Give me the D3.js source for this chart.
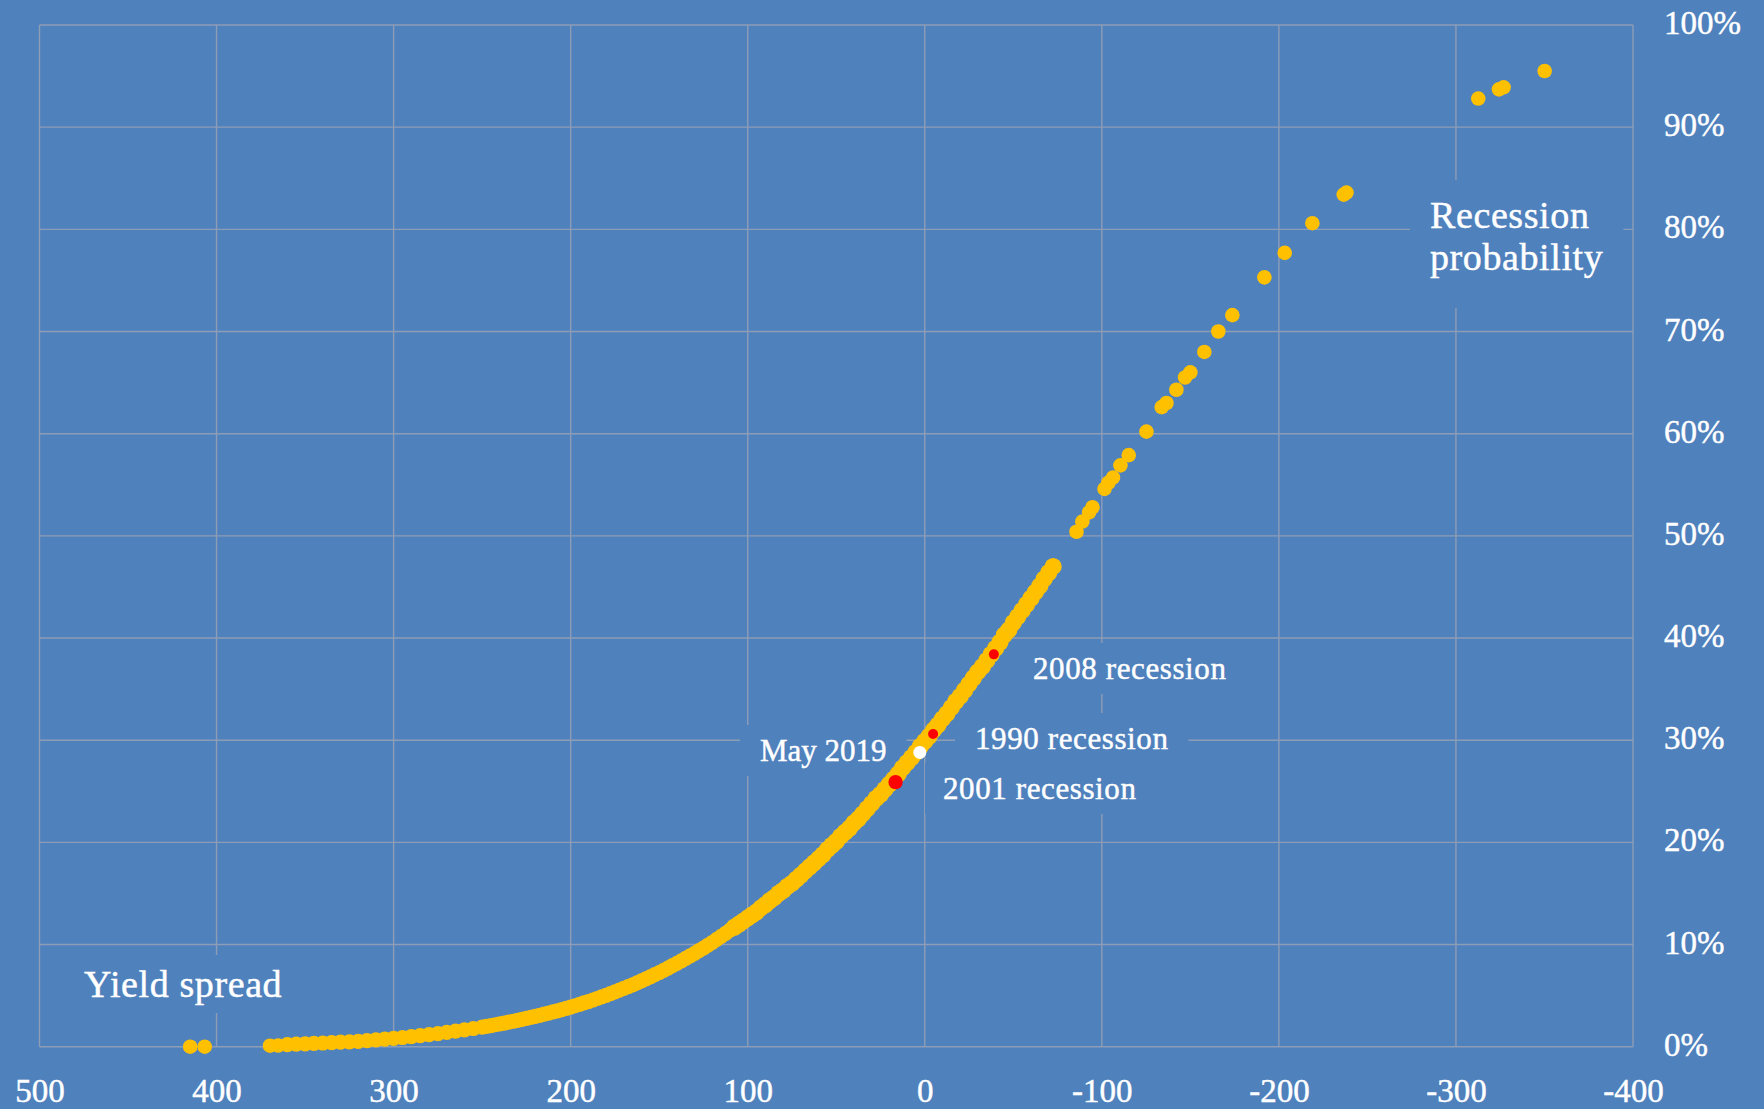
<!DOCTYPE html>
<html>
<head>
<meta charset="utf-8">
<script src="https://cdn.jsdelivr.net/npm/d3@7"></script>
<style>
html, body { margin: 0; padding: 0; background: #4F81BD; }
svg { display: block; }
</style>
</head>
<body>
<svg id="chart" width="1764" height="1109"></svg>
<script>
// ---------------- data ----------------
const xTickValues = [500, 400, 300, 200, 100, 0, -100, -200, -300, -400];
const yTickValues = [0, 10, 20, 30, 40, 50, 60, 70, 80, 90, 100];

// dense part of the scatter (yield spread in bp, recession probability in %)
const denseSpread = [
  360, 355, 350, 345, 340, 335, 330, 325, 320, 315, 310, 305, 300, 295, 290, 285, 280, 275, 270, 265,
  260, 255,
  250, 247.5, 245, 242.5, 240, 237.5, 235, 232.5, 230, 227.5, 225, 222.5, 220, 217.5, 215, 212.5, 210,
  207.5, 205, 202.5, 200, 197.5, 195, 192.5, 190, 187.5, 185, 182.5, 180, 177.5, 175, 172.5, 170,
  167.5, 165, 162.5, 160, 157.5, 155, 152.5, 150, 147.5, 145, 142.5, 140, 137.5, 135, 132.5, 130,
  127.5, 125, 122.5, 120,
  117.5, 115, 112.5, 110, 107.5, 105, 102.5, 100, 97.5, 95, 92.5, 90, 87.5, 85, 82.5, 80, 77.5, 75,
  72.5, 70, 67.5, 65, 62.5, 60, 57.5, 55, 52.5, 50, 47.5, 45, 42.5, 40, 37.5, 35, 32.5, 30, 27.5, 25,
  22.5, 20, 17.5, 15, 12.5, 10, 7.5, 5, 2.5, 0, -2.5, -5, -7.5, -10, -12.5, -15, -17.5, -20, -22.5,
  -25, -27.5, -30, -32.5, -35, -37.5, -40, -42.5, -45, -47.5, -50, -52.5, -55, -57.5, -60, -62.5,
  -65, -67.5, -70, -72.5
];
const denseProb = [
  0.20, 0.25, 0.28, 0.32, 0.36, 0.40, 0.44, 0.48, 0.53, 0.60, 0.66, 0.74, 0.82, 0.90, 0.98, 1.08, 1.18, 1.28, 1.40, 1.52,
  1.65, 1.78,
  1.92, 1.99, 2.07, 2.15, 2.23, 2.31, 2.40, 2.49, 2.58, 2.67, 2.77, 2.87, 2.97, 3.07, 3.18, 3.29, 3.40,
  3.51, 3.63, 3.75, 3.88, 4.01, 4.14, 4.28, 4.42, 4.57, 4.72, 4.87, 5.03, 5.19, 5.36, 5.53, 5.70,
  5.88, 6.06, 6.25, 6.44, 6.64, 6.84, 7.05, 7.26, 7.48, 7.70, 7.93, 8.16, 8.40, 8.64, 8.89, 9.14,
  9.40, 9.66, 9.93, 10.2,
  10.5, 10.8, 11.1, 11.4, 11.7, 12.0, 12.3, 12.6, 12.9, 13.2, 13.6, 13.9, 14.3, 14.6, 15.0, 15.3, 15.7, 16.0,
  16.4, 16.8, 17.2, 17.6, 18.0, 18.4, 18.8, 19.3, 19.7, 20.1, 20.6, 21.0, 21.4, 21.9, 22.3, 22.8, 23.3, 23.8, 24.3, 24.7,
  25.2, 25.7, 26.2, 26.7, 27.3, 27.8, 28.3, 28.8, 29.4, 29.9, 30.4, 31.0, 31.5, 32.1, 32.6, 33.2, 33.8, 34.3, 34.9,
  35.5, 36.1, 36.7, 37.2, 37.8, 38.4, 39.0, 39.6, 40.3, 40.8, 41.5, 42.1, 42.7, 43.3, 43.9, 44.5,
  45.1, 45.8, 46.4, 47.0
];

// isolated points
const sparseSpread = [
  414.9, 406.7, 369.8, 365.2,
  -85.7, -89.0, -92.8, -94.7, -101.5, -103.7, -106.3, -110.5, -115.2, -125.2, -133.8, -136.5,
  -142.1, -147.0, -150.0, -157.9, -165.8, -173.7, -191.8, -203.3, -218.9, -236.6, -238.2,
  -312.6, -324.3, -326.9, -350.1
];
const sparseProb = [
  0.0, 0.0, 0.1, 0.12,
  50.4, 51.4, 52.3, 52.8, 54.6, 55.2, 55.7, 56.9, 57.9, 60.2, 62.6, 63.0,
  64.3, 65.5, 66.0, 68.0, 70.0, 71.6, 75.3, 77.7, 80.6, 83.4, 83.6,
  92.8, 93.7, 93.9, 95.5
];

// highlighted episodes
const highlightNames  = ["2008 recession", "1990 recession", "2001 recession", "May 2019"];
const highlightSpread = [-39.0, -4.7, 16.5, 2.8];
const highlightProb   = [38.4, 30.6, 25.9, 28.8];

// text labels
const axisTitleX = "Yield spread";
const axisTitleY = ["Recession", "probability"];

// ---------------- layout & style ----------------
const BG = "#4F81BD";
const GRID = "#8E9DB6";
const GOLD = "#FFC000";
const FONT = "'Liberation Serif', 'DejaVu Serif', serif";

const svg = d3.select("#chart");
svg.append("rect").attr("width", 1764).attr("height", 1109).attr("fill", BG);

const x = d3.scaleLinear().domain([500, -400]).range([39.5, 1633]);
const y = d3.scaleLinear().domain([0, 100]).range([1046.7, 25]);

// gridlines
const gGrid = svg.append("g");
gGrid.selectAll("line.v").data(xTickValues).join("line")
  .attr("class", "v")
  .attr("x1", d => x(d)).attr("x2", d => x(d))
  .attr("y1", y(0)).attr("y2", y(100))
  .attr("stroke", GRID).attr("stroke-width", 1.4);
gGrid.selectAll("line.h").data(yTickValues).join("line")
  .attr("class", "h")
  .attr("y1", d => y(d)).attr("y2", d => y(d))
  .attr("x1", x(500)).attr("x2", x(-400))
  .attr("stroke", GRID).attr("stroke-width", 1.4);

function heavy(sel) {
  return sel.attr("fill", "#FFFFFF")
    .attr("stroke", "#FFFFFF").attr("stroke-width", 0.45)
    .style("paint-order", "stroke");
}

// axes (labels only)
const xAxis = d3.axisBottom(x).tickValues(xTickValues).tickSize(0).tickPadding(0)
  .tickFormat(d => String(d));
const gx = svg.append("g").attr("transform", `translate(0, ${y(0) + 55})`).call(xAxis);
gx.select(".domain").remove();
heavy(gx.selectAll("text"))
  .attr("dy", 0)
  .style("font-family", FONT).style("font-size", "33px")
  .attr("text-anchor", "middle");

const yAxis = d3.axisRight(y).tickValues(yTickValues).tickSize(0).tickPadding(0)
  .tickFormat(d => d + "%");
const gy = svg.append("g").attr("transform", "translate(1664, 0)").call(yAxis);
gy.select(".domain").remove();
heavy(gy.selectAll("text"))
  .attr("x", 0).attr("dy", 8.5)
  .style("font-family", FONT).style("font-size", "33px")
  .attr("text-anchor", "start");

// annotation text boxes (filled with background colour, hiding gridlines)
const annotations = [
  { lines: [axisTitleX], x: 84, y: 997, size: 38, ls: 0.6, padX: 14, padTop: 8, padBottom: 8 },
  { lines: axisTitleY, x: 1430, y: 228, size: 38, ls: 0.6, lh: 42, padX: 20, padTop: 14, padBottom: 30 },
  { lines: [highlightNames[0]], x: 1033, y: 679, size: 31, ls: 0.6, padX: 18, padTop: 8, padBottom: 8 },
  { lines: [highlightNames[1]], x: 975, y: 749, size: 31, ls: 0.6, padX: 20, padTop: 8, padBottom: 8 },
  { lines: [highlightNames[2]], x: 943, y: 799, size: 31, ls: 0.6, padX: 18, padTop: 8, padBottom: 8 },
  { lines: [highlightNames[3]], x: 760, y: 761, size: 31, ls: 0, padX: 20, padTop: 8, padBottom: 8 }
];

const gBoxes = svg.append("g");
const gDots = svg.append("g");
const gText = svg.append("g");

annotations.forEach(a => {
  const t = heavy(gText.append("text"))
    .attr("x", a.x).attr("y", a.y)
    .style("font-family", FONT)
    .style("font-size", a.size + "px")
    .style("letter-spacing", a.ls + "px");
  a.lines.forEach((ln, i) => {
    t.append("tspan").attr("x", a.x).attr("dy", i === 0 ? 0 : a.lh).text(ln);
  });
  const bb = t.node().getBBox();
  gBoxes.append("rect")
    .attr("x", bb.x - a.padX)
    .attr("y", bb.y - a.padTop)
    .attr("width", bb.width + 2 * a.padX)
    .attr("height", bb.height + a.padTop + a.padBottom)
    .attr("fill", BG);
});

// scatter points
const dense = denseSpread.map((s, i) => ({ s, p: denseProb[i] }));
const sparse = sparseSpread.map((s, i) => ({ s, p: sparseProb[i] }));

gDots.selectAll("circle.dense").data(dense).join("circle")
  .attr("class", "dense")
  .attr("cx", d => x(d.s)).attr("cy", d => y(d.p))
  .attr("r", d => d.s < 110 ? 8.6 : 7.6).attr("fill", GOLD);

gDots.selectAll("circle.sparse").data(sparse).join("circle")
  .attr("class", "sparse")
  .attr("cx", d => x(d.s)).attr("cy", d => y(d.p))
  .attr("r", 7.3).attr("fill", GOLD);

const hl = highlightNames.map((n, i) => ({ n, s: highlightSpread[i], p: highlightProb[i] }));
const hlColor = { "2008 recession": "#FF0000", "1990 recession": "#FF0000", "2001 recession": "#FF0000", "May 2019": "#FFFFFF" };
const hlRadius = { "2008 recession": 5, "1990 recession": 5, "2001 recession": 7.2, "May 2019": 6.5 };
gDots.selectAll("circle.hl").data(hl).join("circle")
  .attr("class", "hl")
  .attr("cx", d => x(d.s)).attr("cy", d => y(d.p))
  .attr("r", d => hlRadius[d.n]).attr("fill", d => hlColor[d.n]);
</script>
</body>
</html>
